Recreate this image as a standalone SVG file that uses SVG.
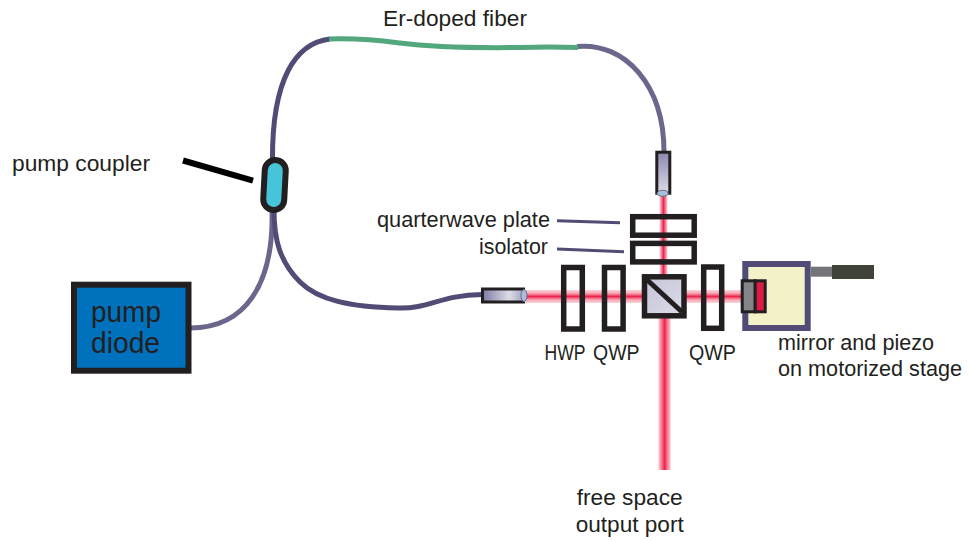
<svg xmlns="http://www.w3.org/2000/svg" width="969" height="541" viewBox="0 0 969 541">
<style>
text{font-family:"Liberation Sans",Arial,sans-serif;font-size:21.500px;fill:#231f20}
.big{font-size:29px}
.f1{fill:none;stroke:#504c75;stroke-width:5}
.f2{fill:none;stroke:#6b678c;stroke-width:5}
.pl{fill:none;stroke:#231f20;stroke-width:5.500}
.lead{stroke:#504c75;stroke-width:3;fill:none}
</style>
<defs>
<linearGradient id="gh" x1="0" x2="1" y1="0" y2="0"><stop offset="0" stop-color="#7d7aa6"/><stop offset=".65" stop-color="#dddde6"/><stop offset="1" stop-color="#a5a4c0"/></linearGradient>
<linearGradient id="gv" x1="0" x2="0" y1="0" y2="1"><stop offset="0" stop-color="#8b88b0"/><stop offset="1" stop-color="#dcdce6"/></linearGradient>
<linearGradient id="gc" x1="0" x2="1" y1="0" y2="1"><stop offset="0" stop-color="#c4c4da"/><stop offset="1" stop-color="#dcdce8"/></linearGradient>
<linearGradient id="bh" x1="0" x2="0" y1="0" y2="1"><stop offset="0" stop-color="#fbd5da"/><stop offset=".25" stop-color="#f9a6b3"/><stop offset=".5" stop-color="#ec2450"/><stop offset=".75" stop-color="#f9a6b3"/><stop offset="1" stop-color="#fbd5da"/></linearGradient>
<linearGradient id="bv" x1="0" x2="1" y1="0" y2="0"><stop offset="0" stop-color="#fbd5da"/><stop offset=".25" stop-color="#f67f95"/><stop offset=".5" stop-color="#ec2450"/><stop offset=".75" stop-color="#f67f95"/><stop offset="1" stop-color="#fbd5da"/></linearGradient>
</defs>
<g id="connectors">
<path class="f1" d="M330 39C295 43 272 80 272.500 160"/>
<path class="f2" d="M577 46.500C625 42 664 85 664 152"/>
<path d="M329 39C365 38 385 41 400 43C430 47 480 48 520 47.500C540 47 560 47 578 47.500" fill="none" stroke="#53a77d" stroke-width="5"/>
<path class="f2" d="M190 328C245 328 274 285 272 210"/>
<path class="f1" d="M274 210C274 240 280 262 300 282C318 300 350 307 398 308C430 309 440 295 482 294.500"/>
<rect x="525" y="290" width="217" height="13" fill="url(#bh)"/>
<rect x="659.500" y="195" width="8" height="82" fill="url(#bv)"/>
<rect x="658.300" y="316" width="12.500" height="154" fill="url(#bv)"/>
<path id="pump-pointer" d="M183 160.500L253 180.700" stroke="#000" stroke-width="6" fill="none"/>
<path class="lead" d="M557 220.700L620 222.700M557 249L624 251.700"/>
</g>
<g id="pump-diode"><rect x="74" y="284.700" width="114.500" height="86" fill="#0071bc" stroke="#231f20" stroke-width="6"/><text class="big" x="91" y="322" textLength="70" lengthAdjust="spacingAndGlyphs">pump</text><text class="big" x="91" y="353" textLength="69" lengthAdjust="spacingAndGlyphs">diode</text></g>
<g id="pump-coupler"><rect x="264" y="160" width="21" height="50" rx="10.500" fill="#45c4da" stroke="#231f20" stroke-width="6" transform="rotate(3 274.500 185)"/><text x="12" y="171" textLength="138" lengthAdjust="spacingAndGlyphs">pump coupler</text></g>
<g id="er-fiber-label"><text x="383" y="26" textLength="144" lengthAdjust="spacingAndGlyphs">Er-doped fiber</text></g>
<g id="collimator-top"><rect x="656.800" y="152.200" width="13" height="41" fill="url(#gv)" stroke="#231f20" stroke-width="3"/><ellipse cx="662.700" cy="193.300" rx="5.500" ry="3" fill="#a5c0d8" stroke="#6b678c"/></g>
<g id="collimator-left"><rect x="482.500" y="289" width="41" height="13" fill="url(#gh)" stroke="#231f20" stroke-width="3"/><ellipse cx="524" cy="295.500" rx="3" ry="6" fill="#a5c0d8" stroke="#6b678c"/></g>
<g id="quarterwave-plate"><rect x="632.700" y="216.700" width="61.500" height="18.500" class="pl"/><text x="377" y="227" textLength="173" lengthAdjust="spacingAndGlyphs">quarterwave plate</text></g>
<g id="isolator"><rect x="632.700" y="243.400" width="61.500" height="18.500" class="pl"/><text x="479" y="254" textLength="69" lengthAdjust="spacingAndGlyphs">isolator</text></g>
<g id="hwp"><rect x="563.700" y="267.500" width="18.600" height="61.500" class="pl"/><text x="544.500" y="360" textLength="41" lengthAdjust="spacingAndGlyphs">HWP</text></g>
<g id="qwp-left"><rect x="604.500" y="267.500" width="18.600" height="61.500" class="pl"/><text x="593" y="360" textLength="46.500" lengthAdjust="spacingAndGlyphs">QWP</text></g>
<g id="beamsplitter"><rect x="644.500" y="276.800" width="39.500" height="39" fill="url(#gc)" stroke="#231f20" stroke-width="5.500"/><path d="M646.700 279.500L682 312" stroke="#231f20" stroke-width="5"/></g>
<g id="qwp-right"><rect x="703.700" y="267" width="18" height="61.300" class="pl"/><text x="689" y="360" textLength="47" lengthAdjust="spacingAndGlyphs">QWP</text></g>
<g id="stage"><rect x="745.300" y="264" width="62.400" height="64" fill="#f3f1c8" stroke="#504c75" stroke-width="6"/><rect x="811" y="266.700" width="21" height="10" fill="#747578"/><rect x="832" y="265" width="42" height="14" fill="#3f4238"/><rect x="742.200" y="280.800" width="13" height="31" fill="#838589" stroke="#231f20" stroke-width="3"/><rect x="755.200" y="280.800" width="10" height="31" fill="#dd1a44" stroke="#231f20" stroke-width="3"/><text x="778" y="350" textLength="156" lengthAdjust="spacingAndGlyphs">mirror and piezo</text><text x="778" y="376" textLength="184" lengthAdjust="spacingAndGlyphs">on motorized stage</text></g>
<g id="output-port"><text x="576.700" y="505" textLength="106" lengthAdjust="spacingAndGlyphs">free space</text><text x="575.700" y="531.700" textLength="108" lengthAdjust="spacingAndGlyphs">output port</text></g>
</svg>
